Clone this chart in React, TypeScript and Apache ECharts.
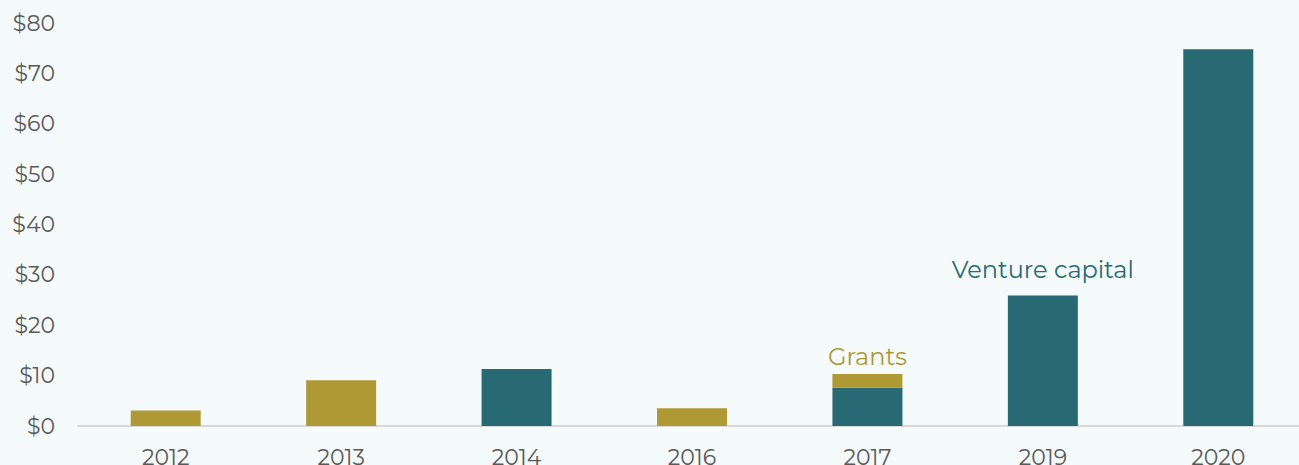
import React, { useEffect, useRef } from "react";
import * as echarts from "echarts";

const categories = ["2012", "2013", "2014", "2016", "2017", "2019", "2020"];
const grants = [3.1, 9.1, 0, 3.5, 2.7, 0, 0];
const ventureCapital = [0, 0, 11.3, 0, 7.6, 25.9, 74.8];
const yTicks = [0, 10, 20, 30, 40, 50, 60, 70, 80];

const GOLD = "#ae9934";
const TEAL = "#276a73";
const FONT = "Montserrat, 'DejaVu Sans', sans-serif";

export default function App() {
  const ref = useRef<HTMLDivElement>(null);
  useEffect(() => {
    if (!ref.current) return;
    const chart = echarts.init(ref.current, undefined, { renderer: "svg" });
    chart.setOption({
      animation: false,
      backgroundColor: "#f5fafa",
      grid: { left: 78, width: 1228, top: 23, bottom: 39, outerBoundsMode: "none", containLabel: false },
      xAxis: {
        type: "category",
        data: categories,
        axisLine: { lineStyle: { color: "#d9d9d9", width: 2 } },
        axisTick: { show: false },
        axisLabel: { color: "#595959", fontSize: 22, fontFamily: FONT, margin: 20 },
      },
      yAxis: {
        type: "value",
        min: yTicks[0],
        max: yTicks[yTicks.length - 1],
        interval: 10,
        splitLine: { show: false },
        axisLine: { show: false },
        axisTick: { show: false },
        axisLabel: {
          color: "#595959",
          fontSize: 22,
          fontFamily: FONT,
          margin: 23,
          formatter: (v: number) => "$" + v,
        },
      },
      series: [
        {
          type: "bar",
          stack: "total",
          barWidth: 70,
          itemStyle: { color: TEAL },
          data: ventureCapital.map((v, i) =>
            i === 5
              ? {
                  value: v,
                  label: {
                    show: true,
                    position: "top",
                    distance: 14,
                    formatter: "Venture capital",
                    color: TEAL,
                    fontSize: 24,
                    fontFamily: FONT,
                  },
                }
              : v
          ),
        },
        {
          type: "bar",
          stack: "total",
          barWidth: 70,
          itemStyle: { color: GOLD },
          data: grants.map((v, i) =>
            i === 4
              ? {
                  value: v,
                  label: {
                    show: true,
                    position: "top",
                    distance: 6,
                    formatter: "Grants",
                    color: GOLD,
                    fontSize: 24,
                    fontFamily: FONT,
                  },
                }
              : v
          ),
        },
      ],
    });
    return () => chart.dispose();
  }, []);
  return (
    <div
      ref={ref}
      style={{ position: "fixed", left: 0, top: 0, width: 1299, height: 465 }}
    />
  );
}
